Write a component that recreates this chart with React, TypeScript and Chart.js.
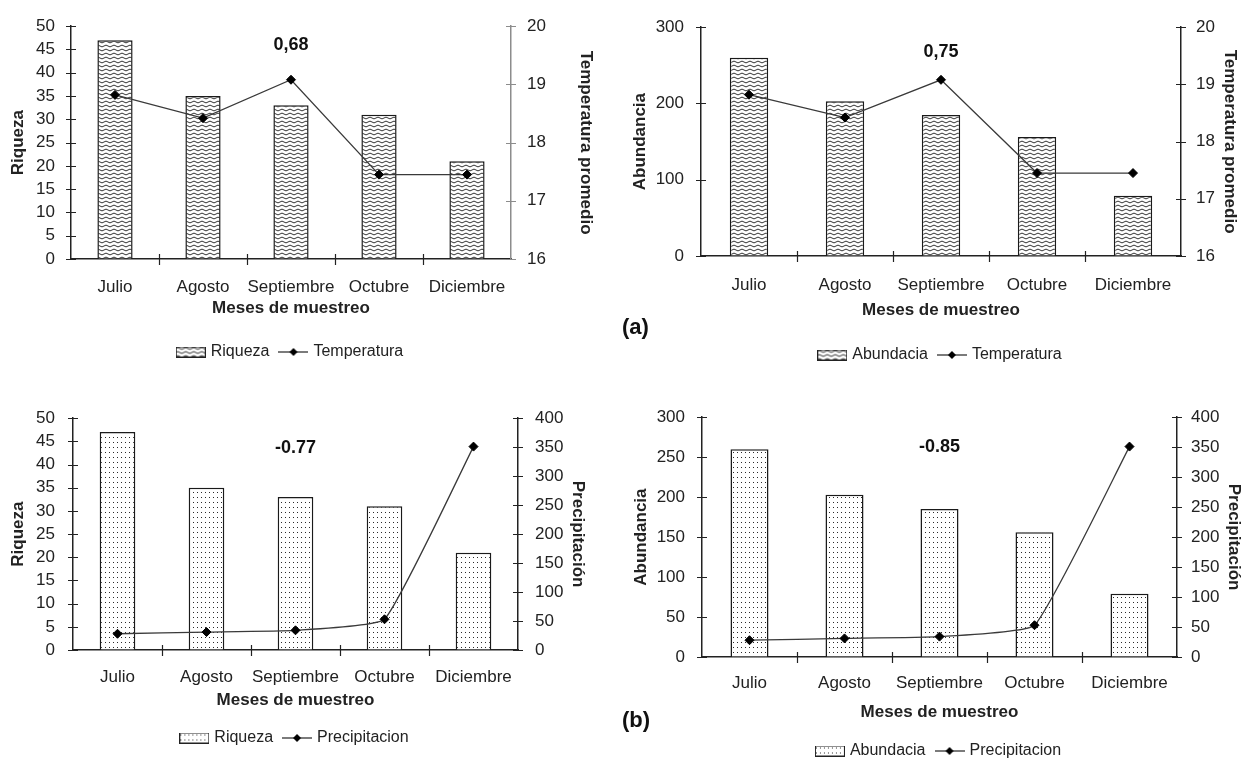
import React, { useEffect, useRef } from 'react';
import { Chart, registerables } from 'chart.js';

Chart.register(...registerables);

// ---------------- data ----------------
const months = ['Julio', 'Agosto', 'Septiembre', 'Octubre', 'Diciembre'];
const riqueza = [47, 35, 33, 31, 21];
const abundancia = [260, 203, 185, 156, 79];
const temperatura = [18.82, 18.42, 19.08, 17.45, 17.45];
const precipitacion = [28, 31, 34, 53, 351];
const correlaciones = ['0,68', '0,75', '-0.77', '-0.85'];
const riquezaTicks = [0, 50, 5];
const abundanciaTicksA = [0, 300, 100];
const abundanciaTicksB = [0, 300, 50];
const temperaturaTicks = [16, 20, 1];
const precipitacionTicks = [0, 400, 50];
const panelTags = ['(a)', '(b)'];

const FONT = "'Liberation Sans', Arial, Helvetica, sans-serif";
const INK = '#222222';

Chart.defaults.font.family = FONT;
Chart.defaults.color = INK;

type Kind = 'wave' | 'dots';

function makeTile(kind: Kind): HTMLCanvasElement {
  const c = document.createElement('canvas');
  const g = c.getContext('2d')!;
  if (kind === 'wave') {
    c.width = 8; c.height = 4;
    g.fillStyle = '#ffffff'; g.fillRect(0, 0, 8, 4);
    g.strokeStyle = '#1e1e1e'; g.lineWidth = 0.9;
    g.beginPath();
    g.moveTo(0, 2);
    g.quadraticCurveTo(2, 0.2, 4, 2);
    g.quadraticCurveTo(6, 3.8, 8, 2);
    g.stroke();
  } else {
    c.width = 4; c.height = 5;
    g.fillStyle = '#ffffff'; g.fillRect(0, 0, 4, 5);
    g.fillStyle = '#2a2a2a'; g.fillRect(1, 2, 1, 1);
  }
  return c;
}

function makePattern(kind: Kind): CanvasPattern {
  const tile = makeTile(kind);
  return tile.getContext('2d')!.createPattern(tile, 'repeat')!;
}

function barSymbol(kind: Kind): HTMLCanvasElement {
  const c = document.createElement('canvas');
  c.width = 30; c.height = 11;
  const g = c.getContext('2d')!;
  g.fillStyle = makePattern(kind);
  g.fillRect(0, 0, 30, 11);
  g.strokeStyle = '#222'; g.lineWidth = 1;
  g.strokeRect(0.5, 0.5, 29, 10);
  return c;
}

function lineSymbol(): HTMLCanvasElement {
  const c = document.createElement('canvas');
  c.width = 30; c.height = 10;
  const g = c.getContext('2d')!;
  g.strokeStyle = '#333'; g.lineWidth = 1.3;
  g.beginPath(); g.moveTo(0, 5); g.lineTo(30, 5); g.stroke();
  g.fillStyle = '#000';
  g.beginPath(); g.moveTo(15, 1); g.lineTo(19, 5); g.lineTo(15, 9); g.lineTo(11, 5); g.closePath(); g.fill();
  return c;
}

interface PanelSpec {
  left: number; top: number; w: number; h: number;
  bars: number[]; barLabel: string; yTitle: string; yTicks: number[];
  line: number[]; lineLabel: string; y2Title: string; y2Ticks: number[];
  kind: Kind; tension: number;
  note: string; noteAt: number[];
  padTop: number; padBottom: number;
  yW: number; y2W: number; xH: number;
  yTitlePad: number; y2TitlePad: number; yTickPad: number; y2TickPad: number;
  xTickPad: number; xTitlePad: number;
  y2Color: string;
}

const panels: PanelSpec[] = [
  {
    left: 0, top: 0, w: 620, h: 390,
    bars: riqueza, barLabel: 'Riqueza', yTitle: 'Riqueza', yTicks: riquezaTicks,
    line: temperatura, lineLabel: 'Temperatura', y2Title: 'Temperatura promedio', y2Ticks: temperaturaTicks,
    kind: 'wave', tension: 0, note: correlaciones[0], noteAt: [2, 45.9],
    padTop: 26, padBottom: 20, yW: 71, y2W: 109, xH: 73,
    yTitlePad: 8, y2TitlePad: 24, yTickPad: 16, y2TickPad: 16, xTickPad: 17.8, xTitlePad: 13.8,
    y2Color: '#8c8c8c',
  },
  {
    left: 620, top: 0, w: 624, h: 390,
    bars: abundancia, barLabel: 'Abundacia', yTitle: 'Abundancia', yTicks: abundanciaTicksA,
    line: temperatura, lineLabel: 'Temperatura', y2Title: 'Temperatura promedio', y2Ticks: temperaturaTicks,
    kind: 'wave', tension: 0, note: correlaciones[1], noteAt: [2, 267],
    padTop: 19, padBottom: 17, yW: 81, y2W: 63, xH: 79,
    yTitlePad: 10, y2TitlePad: 4, yTickPad: 17, y2TickPad: 15, xTickPad: 18.8, xTitlePad: 14.8,
    y2Color: INK,
  },
  {
    left: 0, top: 390, w: 620, h: 371,
    bars: riqueza, barLabel: 'Riqueza', yTitle: 'Riqueza', yTicks: riquezaTicks,
    line: precipitacion, lineLabel: 'Precipitacion', y2Title: 'Precipitación', y2Ticks: precipitacionTicks,
    kind: 'dots', tension: 0.12, note: correlaciones[2], noteAt: [2, 43.6],
    padTop: 19, padBottom: 5, yW: 73, y2W: 102, xH: 68,
    yTitlePad: 8, y2TitlePad: 32, yTickPad: 18, y2TickPad: 17, xTickPad: 16.8, xTitlePad: 7.8,
    y2Color: INK,
  },
  {
    left: 620, top: 390, w: 624, h: 390,
    bars: abundancia, barLabel: 'Abundacia', yTitle: 'Abundancia', yTicks: abundanciaTicksB,
    line: precipitacion, lineLabel: 'Precipitacion', y2Title: 'Precipitación', y2Ticks: precipitacionTicks,
    kind: 'dots', tension: 0.12, note: correlaciones[3], noteAt: [2, 262.5],
    padTop: 19, padBottom: 11, yW: 82, y2W: 67, xH: 74,
    yTitlePad: 11, y2TitlePad: 0, yTickPad: 17, y2TickPad: 14, xTickPad: 15.8, xTitlePad: 8.8,
    y2Color: INK,
  },
];

const crossTicks = {
  id: 'crossTicks',
  afterDraw(chart: any) {
    const { ctx } = chart;
    const xs = chart.scales.x;
    const y = chart.scales.y;
    const y2 = chart.scales.y2;
    ctx.save();
    ctx.lineWidth = 1.2;
    const vert = (s: any, ax: number) => {
      ctx.strokeStyle = s.options.border.color;
      ctx.beginPath();
      s.ticks.forEach((_: any, i: number) => {
        const py = Math.round(s.getPixelForTick(i)) + 0.5;
        ctx.moveTo(ax - 5, py);
        ctx.lineTo(ax + 5, py);
      });
      ctx.stroke();
    };
    vert(y, y.right);
    vert(y2, y2.left);
    ctx.strokeStyle = xs.options.border.color;
    ctx.beginPath();
    for (let i = 1; i < xs.ticks.length; i++) {
      const px = Math.round(xs.getPixelForValue(i - 0.5)) + 0.5;
      ctx.moveTo(px, xs.top - 5);
      ctx.lineTo(px, xs.top + 6);
    }
    ctx.stroke();
    ctx.restore();
  },
};

function buildConfig(p: PanelSpec): any {
  const pattern = makePattern(p.kind);
  const bSym = barSymbol(p.kind);
  const lSym = lineSymbol();
  const note = {
    id: 'note',
    afterDatasetsDraw(chart: any) {
      const { ctx } = chart;
      ctx.save();
      ctx.font = `bold 18px ${FONT}`;
      ctx.fillStyle = '#111';
      ctx.textAlign = 'center';
      ctx.textBaseline = 'middle';
      ctx.fillText(p.note, chart.scales.x.getPixelForValue(p.noteAt[0]), chart.scales.y.getPixelForValue(p.noteAt[1]));
      ctx.restore();
    },
  };
  const tickFont = { size: 17 };
  const titleFont = { size: 17, weight: 'bold' as const };
  return {
    type: 'bar',
    data: {
      labels: months,
      datasets: [
        {
          type: 'bar', label: p.barLabel, data: p.bars, yAxisID: 'y',
          backgroundColor: pattern, borderColor: '#1a1a1a', borderWidth: 1.5,
          barPercentage: 0.4, categoryPercentage: 1, order: 2,
        },
        {
          type: 'line', label: p.lineLabel, data: p.line, yAxisID: 'y2',
          borderColor: '#3a3a3a', borderWidth: 1.3, tension: p.tension,
          pointStyle: 'rectRot', pointRadius: 4.5, pointBackgroundColor: '#000',
          pointBorderColor: '#000', pointBorderWidth: 1, order: 1,
        },
      ],
    },
    options: {
      responsive: false,
      animation: false,
      events: [],
      layout: { padding: { top: p.padTop, bottom: p.padBottom, left: 0, right: 0 } },
      plugins: {
        tooltip: { enabled: false },
        legend: {
          display: true,
          position: 'bottom',
          fullSize: false,
          align: 'center',
          labels: {
            usePointStyle: true,
            pointStyleWidth: 24,
            padding: 12,
            color: INK,
            font: { size: 16 },
            generateLabels: () => [
              { text: p.barLabel, pointStyle: bSym, fillStyle: 'transparent', strokeStyle: 'transparent', lineWidth: 0, hidden: false, datasetIndex: 0, fontColor: INK },
              { text: p.lineLabel, pointStyle: lSym, fillStyle: 'transparent', strokeStyle: 'transparent', lineWidth: 0, hidden: false, datasetIndex: 1, fontColor: INK },
            ],
          },
        },
      },
      scales: {
        x: {
          type: 'category',
          offset: true,
          grid: { display: true, drawOnChartArea: false, drawTicks: false },
          border: { display: true, color: INK, width: 1.5 },
          ticks: { color: INK, font: tickFont, padding: p.xTickPad, maxRotation: 0, minRotation: 0, autoSkip: false },
          title: { display: true, text: 'Meses de muestreo', color: INK, font: titleFont, padding: { top: 0, bottom: p.xTitlePad } },
          afterFit: (s: any) => { s.height = p.xH; },
        },
        y: {
          type: 'linear', position: 'left',
          min: p.yTicks[0], max: p.yTicks[1],
          grid: { display: true, drawOnChartArea: false, drawTicks: false },
          border: { display: true, color: INK, width: 1.5 },
          ticks: { stepSize: p.yTicks[2], color: INK, font: tickFont, padding: p.yTickPad, autoSkip: false },
          title: { display: true, text: p.yTitle, color: INK, font: titleFont, padding: { top: p.yTitlePad, bottom: 0 } },
          afterFit: (s: any) => { s.width = p.yW; },
        },
        y2: {
          type: 'linear', position: 'right',
          min: p.y2Ticks[0], max: p.y2Ticks[1],
          grid: { display: true, drawOnChartArea: false, drawTicks: false },
          border: { display: true, color: p.y2Color, width: 1.5 },
          ticks: { stepSize: p.y2Ticks[2], color: INK, font: tickFont, padding: p.y2TickPad, autoSkip: false },
          title: { display: true, text: p.y2Title, color: INK, font: titleFont, padding: { top: p.y2TitlePad, bottom: 0 } },
          afterFit: (s: any) => { s.width = p.y2W; },
        },
      },
    },
    plugins: [crossTicks, note],
  };
}

function Panel({ spec }: { spec: PanelSpec }) {
  const ref = useRef<HTMLCanvasElement>(null);
  useEffect(() => {
    if (!ref.current) return;
    const chart = new Chart(ref.current, buildConfig(spec));
    return () => chart.destroy();
  }, [spec]);
  return (
    <canvas
      ref={ref}
      width={spec.w}
      height={spec.h}
      style={{ position: 'absolute', left: spec.left, top: spec.top, width: spec.w, height: spec.h }}
    />
  );
}

const tagStyle: React.CSSProperties = {
  position: 'absolute',
  left: 622,
  fontFamily: FONT,
  fontWeight: 'bold',
  fontSize: 22,
  lineHeight: '22px',
  color: '#111',
};

export default function App() {
  return (
    <div style={{ position: 'absolute', left: 0, top: 0, width: 1244, height: 761, overflow: 'hidden', background: '#fff' }}>
      {panels.map((p, i) => (
        <Panel key={i} spec={p} />
      ))}
      <div style={{ ...tagStyle, top: 316 }}>{panelTags[0]}</div>
      <div style={{ ...tagStyle, top: 709 }}>{panelTags[1]}</div>
    </div>
  );
}
